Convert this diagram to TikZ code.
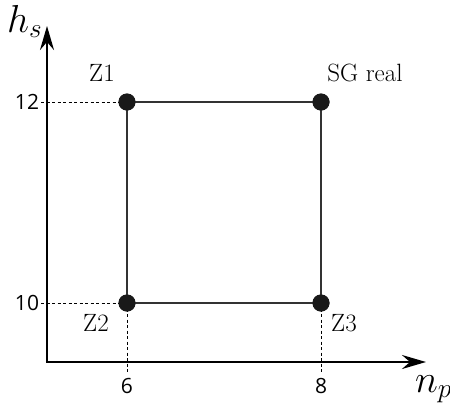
\documentclass[tikz,border=0pt]{standalone}
\usepackage{fix-cm}
\usepackage{fontspec}
\newfontfamily\ticksf{Open Sans}
\usetikzlibrary{arrows.meta}
\begin{document}
\begin{tikzpicture}[x=1pt,y=-1pt,
  dot/.style={circle,fill=black!90,inner sep=0pt,minimum size=17pt},
  axis/.style={line width=2.4pt,-{Stealth[length=24pt,width=14pt,inset=8pt]}},
  edge/.style={line width=1.9pt,black!80},
  guide/.style={line width=0.9pt,dash pattern=on 3pt off 2.5pt},
  ticklab/.style={font=\ticksf\fontsize{21}{23}\selectfont},
  ptlab/.style={font=\fontsize{25}{27}\selectfont},
  axlab/.style={font=\fontsize{39}{41}\selectfont,inner sep=0pt,anchor=base west}]
\useasboundingbox (0,0) rectangle (450,405);
\coordinate (O) at (47,362);
\coordinate (ytip) at (47,26);
\coordinate (xtip) at (426,362);
\coordinate (t12) at (41,102);
\coordinate (t10) at (41,303);
\coordinate (b6) at (127,372);
\coordinate (b8) at (321,372);
\node[dot] (Z1) at (127,102) {};
\node[dot] (SG) at (321,102) {};
\node[dot] (Z2) at (127,303) {};
\node[dot] (Z3) at (321,303) {};
\draw[guide] (t12) -- (Z1.center);
\draw[guide] (t10) -- (Z2.center);
\draw[guide] (Z2.center) -- (b6);
\draw[guide] (Z3.center) -- (b8);
\draw[edge] (Z1.center) -- (SG.center) -- (Z3.center) -- (Z2.center) -- cycle;
\node[dot] at (Z1) {};
\node[dot] at (SG) {};
\node[dot] at (Z2) {};
\node[dot] at (Z3) {};
\draw[axis] (O) -- (ytip);
\draw[axis] ([xshift=-1.2pt]O) -- (xtip);
\node[ptlab] (lZ1) at (102,73) {Z1};
\node[ptlab] (lSG) at (365,73) {SG real};
\node[ptlab] (lZ2) at (96,323) {Z2};
\node[ptlab] (lZ3) at (344,323) {Z3};
\node[ticklab] (l12) at (27,102) {12};
\node[ticklab] (l10) at (27,303) {10};
\node[ticklab] (l6) at (127,386) {6};
\node[ticklab] (l8) at (321,386) {8};
\node[axlab] (lh) at (7,32) {$h_s$};
\node[axlab] (ln) at (415,392) {$n_p$};
\end{tikzpicture}
\end{document}
